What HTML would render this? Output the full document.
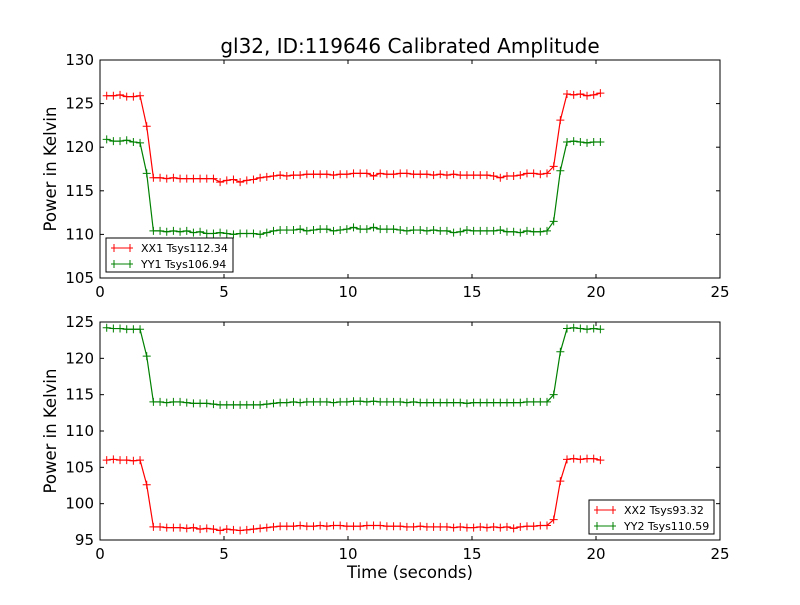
<!DOCTYPE html>
<html><head><meta charset="utf-8"><style>
body{margin:0;background:#fff}
svg{font-family:"DejaVu Sans","Liberation Sans",sans-serif}
</style></head><body>
<svg id="c" width="800" height="600" xmlns="http://www.w3.org/2000/svg">
<rect width="800" height="600" fill="#fff"/>
<text x="410" y="53" font-size="20" text-anchor="middle">gl32, ID:119646 Calibrated Amplitude</text>
<text x="410" y="578" font-size="16.5" text-anchor="middle">Time (seconds)</text>
</svg>
<script>
const xx1=[125.9,125.9,126.0,125.8,125.8,125.9,122.4,
116.5,116.5,116.4,116.5,116.4,116.4,116.4,116.4,116.4,116.4,
116.0,116.2,116.3,116.0,116.2,116.3,116.5,116.6,116.7,116.8,
116.7,116.8,116.8,116.9,116.9,116.9,116.9,116.8,116.9,116.9,
117.0,117.0,117.0,116.7,117.0,116.9,116.9,117.0,117.0,116.9,
116.9,116.9,116.8,116.9,116.8,116.9,116.8,116.8,116.8,116.8,
116.8,116.7,116.5,116.7,116.7,116.8,117.0,117.0,116.9,117.0,
117.8,123.1,126.1,126.0,126.1,125.9,126.0,126.2];
const yy1=[120.9,120.7,120.7,120.8,120.6,120.5,117.0,
110.4,110.4,110.3,110.4,110.3,110.4,110.2,110.3,110.1,110.1,
110.2,110.1,110.0,110.1,110.1,110.1,110.0,110.2,110.4,110.5,
110.5,110.5,110.6,110.4,110.5,110.6,110.6,110.4,110.5,110.6,
110.8,110.6,110.6,110.8,110.6,110.6,110.6,110.5,110.4,110.5,
110.5,110.4,110.5,110.4,110.4,110.2,110.3,110.5,110.4,110.4,
110.4,110.4,110.5,110.3,110.3,110.2,110.4,110.3,110.3,110.4,
111.5,117.3,120.6,120.7,120.6,120.5,120.6,120.6];
const xx2=[106.0,106.1,106.0,106.0,105.9,106.0,102.6,
96.8,96.8,96.7,96.7,96.7,96.6,96.7,96.5,96.6,96.5,
96.3,96.5,96.4,96.3,96.4,96.5,96.6,96.7,96.8,96.9,
96.9,96.9,97.0,96.9,96.9,97.0,96.9,97.0,97.0,96.9,
96.9,96.9,97.0,97.0,97.0,96.9,96.9,96.9,96.8,96.8,
96.9,96.8,96.8,96.8,96.8,96.7,96.8,96.7,96.7,96.8,
96.7,96.8,96.7,96.8,96.6,96.8,96.9,96.9,97.0,97.0,
97.8,103.1,106.1,106.2,106.1,106.2,106.2,106.0];
const yy2=[124.2,124.1,124.1,124.0,124.0,124.0,120.3,
114.0,114.0,113.9,114.0,114.0,113.9,113.8,113.8,113.8,113.7,
113.6,113.6,113.6,113.6,113.6,113.6,113.6,113.7,113.8,113.9,
113.9,114.0,113.9,114.0,114.0,114.0,114.0,113.9,114.0,114.0,
114.1,114.1,114.0,114.1,114.0,114.0,114.0,114.0,113.9,114.0,
113.9,113.9,113.9,113.9,113.9,113.9,113.9,113.8,113.9,113.9,
113.9,113.9,113.9,113.9,113.9,113.9,114.0,114.0,114.0,114.0,
115.0,120.9,124.1,124.2,124.1,124.0,124.1,124.0];
const tStart=0.27, tStep=0.269;
const xTicks=[0,5,10,15,20,25];
const yTicksTop=[105,110,115,120,125,130];
const yTicksBot=[95,100,105,110,115,120,125];
const legendTop=["XX1 Tsys112.34","YY1 Tsys106.94"];
const legendBot=["XX2 Tsys93.32","YY2 Tsys110.59"];

const svg=document.getElementById('c');
const NS="http://www.w3.org/2000/svg";
function mk(tag,attrs,parent){const e=document.createElementNS(NS,tag);for(const k in attrs)e.setAttribute(k,attrs[k]);(parent||svg).appendChild(e);return e;}

function panel(name,top,bottom,ymin,ymax,yTicks,series,colors,legend,legPos){
  const L=100,R=720;
  const g=mk('g',{});
  
  
  const xs=v=>L+(v-0)/(25-0)*(R-L);
  const ys=v=>bottom-(v-ymin)/(ymax-ymin)*(bottom-top);
  series.forEach((arr,si)=>{
    let d='';
    arr.forEach((v,i)=>{const x=xs(tStart+i*tStep),y=ys(v);d+=(i?'L':'M')+x.toFixed(2)+' '+y.toFixed(2);});
    const p=mk('path',{d:d,fill:'none',stroke:colors[si],'stroke-width':1.2},g);
    
    
    let m='';
    arr.forEach((v,i)=>{const x=xs(tStart+i*tStep),y=ys(v);m+=`M${(x-4).toFixed(2)} ${y.toFixed(2)}h8M${x.toFixed(2)} ${(y-4).toFixed(2)}v8`;});
    const mp=mk('path',{d:m,stroke:colors[si],'stroke-width':1,fill:'none'},g);
    
    
  });
  const fr=mk('rect',{x:L,y:top,width:R-L,height:bottom-top,fill:'none',stroke:'#000','stroke-width':1},g);
  
  
  xTicks.forEach(t=>{
    const x=xs(t);
    mk('line',{x1:x,x2:x,y1:bottom,y2:bottom-4,stroke:'#000'},g);
    mk('line',{x1:x,x2:x,y1:top,y2:top+4,stroke:'#000'},g);
    const tx=mk('text',{x:x,y:bottom+19,'font-size':15,'text-anchor':'middle'},g);
    tx.textContent=t;
    
    
  });
  yTicks.forEach(t=>{
    const y=ys(t);
    mk('line',{x1:L,x2:L+4,y1:y,y2:y,stroke:'#000'},g);
    mk('line',{x1:R,x2:R-4,y1:y,y2:y,stroke:'#000'},g);
    const tx=mk('text',{x:L-6,y:y+5,'font-size':15,'text-anchor':'end'},g);
    tx.textContent=t;
    
    
  });
  const yt=mk('text',{x:0,y:0,'font-size':16.5,'text-anchor':'middle',transform:`translate(56 ${(top+bottom)/2}) rotate(-90)`},g);
  yt.textContent='Power in Kelvin';
  
  
  const lg=mk('g',{},g);
  
  
  mk('rect',{x:legPos[0],y:legPos[1],width:legPos[2],height:34,fill:'#fff',stroke:'#000'},lg);
  legend.forEach((lab,i)=>{
    const y=legPos[1]+10+i*16;
    const x0=legPos[0]+5;
    mk('path',{d:`M${x0} ${y}h22M${x0+3} ${y-4}v8M${x0+19} ${y-4}v8`,stroke:colors[i],'stroke-width':1,fill:'none'},lg);
    const tx=mk('text',{x:x0+30,y:y+4,'font-size':11},lg);
    tx.textContent=lab;
    
    
  });
}
panel('top-panel',60,278,105,130,yTicksTop,[xx1,yy1],['#ff0000','#008000'],legendTop,[106,238,127]);
panel('bottom-panel',322,540,95,125,yTicksBot,[xx2,yy2],['#ff0000','#008000'],legendBot,[589,500,125]);
</script>
</body></html>
